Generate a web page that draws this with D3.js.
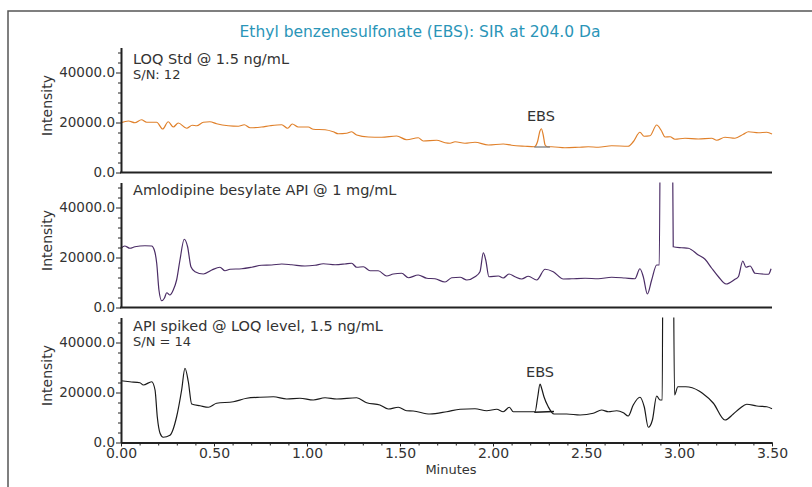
<!DOCTYPE html>
<html>
<head>
<meta charset="utf-8">
<script src="https://cdnjs.cloudflare.com/ajax/libs/d3/7.8.5/d3.min.js"></script>
<style>
  body { margin: 0; background: #fff; }
  svg text { font-family: "DejaVu Sans", Verdana, sans-serif; fill: #333; }
</style>
</head>
<body>
<script>
// chromatogram data, [minutes, intensity]
var loqStd = [[0.000,19900],[0.040,20600],[0.075,19900],[0.110,21100],[0.138,20100],[0.192,20100],[0.224,17400],[0.254,20300],[0.281,18200],[0.308,19800],[0.353,17700],[0.383,18900],[0.407,18700],[0.443,20100],[0.478,20300],[0.514,19500],[0.577,18700],[0.631,18500],[0.663,19100],[0.694,17900],[0.756,18200],[0.801,18700],[0.864,19100],[0.896,17700],[0.921,19400],[0.953,18200],[1.007,18200],[1.034,17300],[1.097,17100],[1.141,16300],[1.168,15500],[1.213,15700],[1.240,16300],[1.267,15000],[1.330,14200],[1.401,14100],[1.482,14600],[1.536,13100],[1.598,13900],[1.625,12600],[1.697,12900],[1.742,11900],[1.769,11700],[1.796,12300],[1.849,11700],[1.903,12100],[1.975,11000],[2.055,11400],[2.100,10900],[2.172,10500],[2.222,10300],[2.240,12500],[2.252,16500],[2.260,17500],[2.270,15000],[2.280,11000],[2.292,10300],[2.316,10300],[2.387,9900],[2.459,10100],[2.512,10300],[2.566,10100],[2.638,10700],[2.727,10500],[2.754,12300],[2.790,16100],[2.812,14500],[2.844,14700],[2.880,19000],[2.903,17000],[2.925,14200],[2.952,14300],[2.978,13300],[3.032,13700],[3.104,13400],[3.176,13700],[3.203,12900],[3.247,14100],[3.301,13700],[3.346,15300],[3.373,16300],[3.427,15900],[3.472,16100],[3.500,15400]];
var apiBlank = [[0.000,23700],[0.020,24600],[0.048,23700],[0.075,24300],[0.129,24700],[0.165,24600],[0.179,23000],[0.192,17700],[0.204,7000],[0.219,2700],[0.233,3700],[0.246,5900],[0.263,5000],[0.281,7000],[0.299,11000],[0.317,19000],[0.340,27300],[0.358,24300],[0.376,16300],[0.398,14300],[0.443,13400],[0.488,15000],[0.532,16100],[0.559,14700],[0.586,15300],[0.649,15500],[0.703,16100],[0.756,16900],[0.810,17000],[0.864,17400],[0.918,17100],[0.989,16600],[1.043,16900],[1.088,17500],[1.151,17100],[1.204,17400],[1.240,17700],[1.267,16100],[1.303,16300],[1.339,14700],[1.383,14700],[1.428,12600],[1.464,13400],[1.509,13700],[1.545,11900],[1.598,13000],[1.644,11700],[1.688,11500],[1.742,10200],[1.778,11900],[1.823,12100],[1.859,11000],[1.903,12300],[1.930,14300],[1.948,21900],[1.961,19000],[1.978,12300],[2.029,12600],[2.055,11800],[2.086,13400],[2.118,12300],[2.154,11400],[2.190,12500],[2.235,11000],[2.280,15300],[2.324,14300],[2.378,11400],[2.423,11500],[2.495,11700],[2.566,11500],[2.638,12100],[2.710,11800],[2.763,11500],[2.790,15500],[2.808,12300],[2.830,5400],[2.853,11000],[2.880,17000],[2.894,17000],[2.903,120000],[2.960,120000],[2.969,24300],[3.014,23900],[3.050,23700],[3.104,21000],[3.140,19300],[3.176,15700],[3.212,12300],[3.253,9400],[3.301,11300],[3.319,12300],[3.343,18600],[3.360,16100],[3.382,16600],[3.409,13700],[3.481,13300],[3.495,15500]];
var apiSpiked = [[0.000,24700],[0.048,24300],[0.102,23900],[0.120,23000],[0.165,24300],[0.183,21000],[0.195,10300],[0.210,3700],[0.227,2100],[0.263,2900],[0.299,10300],[0.326,21000],[0.344,29700],[0.362,24300],[0.380,15400],[0.425,14700],[0.470,14100],[0.514,15700],[0.604,16300],[0.676,17700],[0.747,18100],[0.819,18300],[0.891,17400],[0.962,17700],[1.034,17000],[1.097,17900],[1.160,17400],[1.267,17900],[1.321,15900],[1.392,15000],[1.437,13400],[1.491,14100],[1.536,12700],[1.571,12600],[1.661,11400],[1.751,12300],[1.823,13300],[1.903,13500],[1.966,12700],[2.020,13300],[2.055,12300],[2.088,14100],[2.109,12300],[2.163,12300],[2.226,12300],[2.240,18000],[2.253,23400],[2.262,21500],[2.274,18300],[2.297,14300],[2.328,11400],[2.396,11400],[2.468,11000],[2.539,11700],[2.584,13000],[2.620,12300],[2.665,12700],[2.701,11900],[2.727,10600],[2.754,15000],[2.790,18100],[2.813,14300],[2.835,6100],[2.857,9000],[2.880,18600],[2.898,17000],[2.910,17000],[2.915,120000],[2.965,120000],[2.976,19000],[2.994,22300],[3.036,22300],[3.108,20600],[3.126,19700],[3.185,15700],[3.247,9000],[3.292,11400],[3.328,13700],[3.364,15300],[3.418,14600],[3.472,14300],[3.500,13500]];

// integration baselines under the EBS peak
var loqBaseline = [[2.222,10200],[2.306,10200]];
var spikedBaseline = [[2.222,12100],[2.328,12400]];

var panelLabels = ["LOQ Std @ 1.5 ng/mL", "Amlodipine besylate API @ 1 mg/mL", "API spiked @ LOQ level, 1.5 ng/mL"];
var snLabels = ["S/N: 12", "", "S/N = 14"];
var peakLabel = "EBS";
var peakTime = [2.258, null, 2.253];
var yMajor = [0, 20000, 40000];
var yMinor = d3.range(0, 50000, 4000);
var xMinor = d3.range(0, 36).map(function(i) { return i / 10; });
var xMajor = [0, 0.5, 1, 1.5, 2, 2.5, 3, 3.5];

var width = 812;
var height = 487;
var left = 121, right = 772;
var panelTop = [47.5, 182.5, 317.5];
var panelH = 125;
var labelY = [63.5, 194.5, 330.5];
var ebsY = [121, null, 376.5];
var colors = ["#e0802a", "#4b2d66", "#1a1a1a"];
var series = [loqStd, apiBlank, apiSpiked];
var baselines = [loqBaseline, null, spikedBaseline];
var baseColors = ["#7a7a7a", null, "#1a1a1a"];

var svg = d3
  .select("body")
  .append("svg")
  .attr("width", width)
  .attr("height", height);

// outer frame
svg
  .append("rect")
  .attr("x", 8)
  .attr("y", 11)
  .attr("width", 830)
  .attr("height", 500)
  .attr("fill", "none")
  .attr("stroke", "#555")
  .attr("stroke-width", 1.5);

svg
  .append("text")
  .attr("x", 420)
  .attr("y", 37)
  .attr("text-anchor", "middle")
  .attr("font-size", 15.5)
  .style("fill", "#2a95b8")
  .text("Ethyl benzenesulfonate (EBS): SIR at 204.0 Da");

var xScale = d3.scaleLinear().domain([0, 3.5]).range([left, right]);

series.forEach(function(data, i) {
  var top = panelTop[i];
  var yScale = d3
    .scaleLinear()
    .domain([0, 50000])
    .range([top + panelH, top]);

  svg
    .append("clipPath")
    .attr("id", "clip" + i)
    .append("rect")
    .attr("x", left)
    .attr("y", top)
    .attr("width", right - left + 2)
    .attr("height", panelH);

  var line = d3
    .line()
    .x(function(d) { return xScale(d[0]); })
    .y(function(d) { return yScale(d[1]); })
    .curve(d3.curveMonotoneX);

  svg
    .append("path")
    .datum(data)
    .attr("clip-path", "url(#clip" + i + ")")
    .attr("d", line)
    .attr("fill", "none")
    .attr("stroke", colors[i])
    .attr("stroke-width", 1.2);

  if (baselines[i]) {
    svg
      .append("path")
      .datum(baselines[i])
      .attr("d", d3.line().x(function(d) { return xScale(d[0]); }).y(function(d) { return yScale(d[1]); }))
      .attr("fill", "none")
      .attr("stroke", baseColors[i])
      .attr("stroke-width", 1.3);
    svg
      .append("text")
      .attr("x", xScale(peakTime[i]))
      .attr("y", ebsY[i])
      .attr("text-anchor", "middle")
      .attr("font-size", 14.5)
      .text(peakLabel);
  }

  // y axis
  var yAxis = svg
    .append("g")
    .attr("transform", "translate(" + left + ",0)")
    .call(
      d3
        .axisLeft(yScale)
        .tickValues(yMinor)
        .tickSize(3)
        .tickSizeOuter(0)
        .tickPadding(3)
        .tickFormat(function(d) { return yMajor.indexOf(d) >= 0 ? d.toFixed(1) : ""; })
    );
  yAxis.attr("font-size", 13.5).attr("font-family", null);
  yAxis.select(".domain").attr("stroke", "#222").attr("stroke-width", 2);
  yAxis.selectAll(".tick line").attr("stroke", "#222")
    .attr("x2", function(d) { return yMajor.indexOf(d) >= 0 ? -5 : -3; });
  yAxis.selectAll(".tick text").style("fill", "#333");

  // x axis
  if (i < 2) {
    svg
      .append("line")
      .attr("x1", left - 1)
      .attr("x2", right)
      .attr("y1", top + panelH)
      .attr("y2", top + panelH)
      .attr("stroke", "#222")
      .attr("stroke-width", 2);
  } else {
    var xAxis = svg
      .append("g")
      .attr("transform", "translate(0," + (top + panelH) + ")")
      .call(
        d3
          .axisBottom(xScale)
          .tickValues(xMinor)
          .tickSize(3)
          .tickSizeOuter(0)
          .tickPadding(3)
          .tickFormat(function(d) {
            return xMajor.indexOf(d) >= 0 ? d.toFixed(2) : "";
          })
      );
    xAxis.attr("font-size", 14).attr("font-family", null);
    xAxis.select(".domain").attr("stroke", "#222").attr("stroke-width", 2);
    xAxis.selectAll(".tick line").attr("stroke", "#222")
      .attr("y2", function(d) { return xMajor.indexOf(d) >= 0 ? 4 : 3; });
    xAxis.selectAll(".tick text").style("fill", "#333");
  }

  svg
    .append("text")
    .attr("transform", "translate(52," + (top + 58) + ") rotate(-90)")
    .attr("text-anchor", "middle")
    .attr("font-size", 14)
    .text("Intensity");

  svg
    .append("text")
    .attr("x", 133)
    .attr("y", labelY[i])
    .attr("font-size", 14.5)
    .text(panelLabels[i]);

  if (snLabels[i]) {
    svg
      .append("text")
      .attr("x", 133)
      .attr("y", labelY[i] + 15)
      .attr("font-size", 13)
      .text(snLabels[i]);
  }
});

svg
  .append("text")
  .attr("x", 451)
  .attr("y", 474)
  .attr("text-anchor", "middle")
  .attr("font-size", 13)
  .text("Minutes");
</script>
</body>
</html>
